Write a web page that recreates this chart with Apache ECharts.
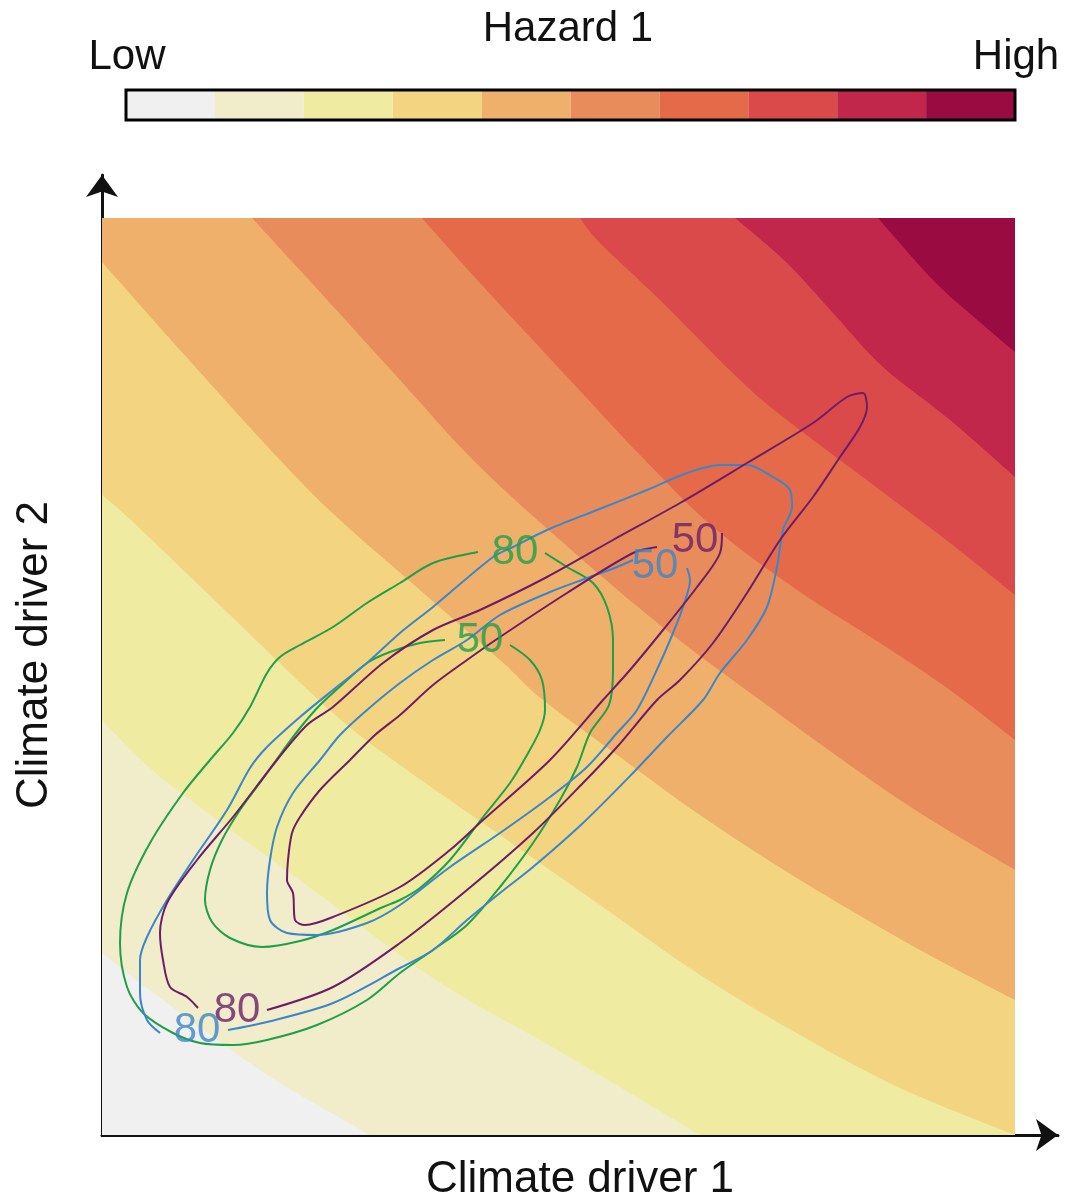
<!DOCTYPE html>
<html>
<head>
<meta charset="utf-8">
<script src="https://cdn.jsdelivr.net/npm/echarts@6/dist/echarts.min.js"></script>
<style>
  html, body { margin: 0; padding: 0; background: #fff; }
  #chart { width: 1071px; height: 1199px; }
</style>
</head>
<body>
<div id="chart"></div>
<script>
// extent of the shaded hazard field (axis units, axes run a bit further for the arrows)
const FIELD_X = 913;
const FIELD_Y = 917;

const BAND_COLORS = ['#f0f0f0', '#f1edcb', '#efeba1', '#f3d581', '#efb06b',
  '#e98c5b', '#e46a4a', '#db4a4b', '#c1264b', '#9a0b42'];

// hazard band boundaries (lower band -> upper band)
const LEVEL_1 = [[0, 182], [45, 147], [111, 98], [178, 52], [268, 0]];
const LEVEL_2 = [[0, 415], [48, 367], [118, 313], [198, 255], [298, 180], [358, 140], [438, 95], [498, 60], [598, 0]];
const LEVEL_3 = [[0, 640], [31, 613], [128, 520], [231, 422], [298, 370], [398, 300], [498, 230], [598, 160], [698, 100], [798, 47], [913, 0]];
const LEVEL_4 = [[0, 873], [78, 785], [178, 675], [238, 615], [318, 545], [398, 475], [441, 435], [518, 378], [598, 320], [698, 255], [818, 185], [913, 135]];
const LEVEL_5 = [[150, 917], [218, 843], [298, 755], [371, 675], [458, 595], [558, 510], [658, 435], [798, 335], [913, 265]];
const LEVEL_6 = [[320, 917], [378, 852], [468, 755], [538, 680], [611, 608], [698, 543], [778, 492], [848, 445], [913, 395]];
const LEVEL_7 = [[478, 917], [498, 892], [558, 835], [638, 755], [685, 715], [778, 645], [848, 592], [913, 540]];
const LEVEL_8 = [[633, 917], [685, 872], [731, 822], [781, 768], [848, 715], [913, 658]];
const LEVEL_9 = [[776, 917], [831, 855], [873, 817], [913, 783]];
const LEVELS = [LEVEL_1, LEVEL_2, LEVEL_3, LEVEL_4, LEVEL_5, LEVEL_6, LEVEL_7, LEVEL_8, LEVEL_9];

// contour lines (open where their label sits)
const GREEN_80 = [[443, 582], [465, 568], [491, 552], [505, 528], [511, 495], [511, 465], [507, 430], [488, 402], [475, 368], [458, 335], [431, 292], [398, 248], [365, 210], [331, 185], [298, 162], [265, 135], [215, 110], [165, 95], [131, 90], [98, 92], [71, 102], [41, 122], [25, 148], [18, 192], [25, 242], [48, 292], [81, 342], [108, 375], [131, 402], [148, 428], [165, 462], [178, 478], [198, 490], [231, 508], [265, 532], [298, 552], [331, 572], [376, 583]];
const GREEN_50 = [[408, 490], [428, 475], [440, 455], [443, 425], [438, 405], [425, 380], [408, 352], [381, 318], [348, 275], [318, 247], [298, 235], [281, 228], [231, 205], [198, 194], [160, 188], [128, 197], [110, 213], [103, 235], [108, 265], [120, 295], [138, 325], [160, 355], [180, 383], [198, 407], [218, 430], [243, 453], [265, 472], [288, 483], [318, 492], [343, 495]];
const BLUE_80 = [[126, 105], [165, 113], [231, 132], [298, 167], [331, 185], [365, 215], [398, 242], [431, 268], [481, 312], [531, 362], [565, 398], [601, 435], [618, 462], [645, 495], [665, 528], [675, 568], [681, 605], [690, 628], [688, 645], [671, 658], [645, 670], [618, 670], [585, 662], [545, 645], [495, 625], [445, 605], [411, 588], [391, 578], [331, 528], [298, 502], [265, 472], [231, 445], [198, 418], [165, 388], [148, 367], [125, 325], [91, 275], [65, 235], [45, 198], [38, 175], [38, 142], [45, 115], [58, 102]];
const BLUE_50 = [[585, 567], [588, 555], [581, 528], [571, 502], [558, 472], [535, 425], [515, 402], [485, 368], [448, 338], [398, 302], [348, 268], [298, 230], [265, 212], [215, 200], [185, 202], [168, 215], [165, 242], [168, 275], [175, 308], [191, 342], [218, 375], [238, 400], [265, 425], [298, 452], [331, 475], [365, 495], [398, 520], [448, 543], [488, 558], [515, 568], [531, 575]];
const PURPLE_80 = [[165, 125], [231, 148], [298, 192], [365, 245], [431, 302], [481, 352], [515, 388], [555, 435], [578, 455], [611, 492], [645, 542], [678, 595], [711, 638], [738, 678], [758, 708], [765, 728], [761, 742], [745, 738], [711, 712], [645, 672], [578, 632], [511, 595], [445, 558], [378, 525], [331, 505], [281, 472], [231, 428], [205, 410], [175, 375], [131, 318], [95, 275], [65, 232], [58, 202], [61, 175], [68, 148], [85, 138], [96, 127]];
const PURPLE_50 = [[620, 602], [618, 582], [595, 548], [561, 505], [528, 465], [501, 435], [448, 375], [381, 315], [348, 285], [298, 248], [231, 218], [203, 210], [193, 215], [191, 242], [185, 255], [186, 275], [190, 302], [198, 318], [218, 345], [248, 375], [273, 400], [298, 420], [331, 450], [365, 475], [398, 498], [465, 542], [531, 582], [555, 588]];

// contour labels: x, y, text
const GREEN_LABELS = [[413, 583, '80'], [378, 495, '50']];
const BLUE_LABELS = [[95, 105, '80'], [553, 569, '50']];
const PURPLE_LABELS = [[135, 125, '80'], [593, 595, '50']];

const CONTOUR_COLORS = { green: '#1f9f48', blue: '#3b86c8', purple: '#6d1d68' };

const FONT = 'Liberation Sans, Arial, Helvetica, sans-serif';

// smooth curve through the boundary points (Catmull-Rom as cubic Bezier)
function curvePath(pts) {
  let d = 'M' + pts[0][0] + ' ' + pts[0][1];
  for (let i = 0; i < pts.length - 1; i++) {
    const p0 = pts[i - 1] || pts[i];
    const p1 = pts[i];
    const p2 = pts[i + 1];
    const p3 = pts[i + 2] || p2;
    const c1x = p1[0] + (p2[0] - p0[0]) / 6, c1y = p1[1] + (p2[1] - p0[1]) / 6;
    const c2x = p2[0] - (p3[0] - p1[0]) / 6, c2y = p2[1] - (p3[1] - p1[1]) / 6;
    d += ' C' + c1x + ' ' + c1y + ' ' + c2x + ' ' + c2y + ' ' + p2[0] + ' ' + p2[1];
  }
  return d;
}

function bandPath(k, api) {
  const toPx = p => api.coord(p);
  if (k === 0) {
    const c = [[0, 0], [FIELD_X, 0], [FIELD_X, FIELD_Y], [0, FIELD_Y]].map(toPx);
    return 'M' + c.map(p => p[0] + ' ' + p[1]).join(' L') + ' Z';
  }
  const edge = LEVELS[k - 1];
  const first = edge[0];
  const last = edge[edge.length - 1];
  const corners = [];
  if (last[1] === 0 && last[0] < FIELD_X) corners.push([FIELD_X, 0]);
  corners.push([FIELD_X, FIELD_Y]);
  if (first[0] === 0 && first[1] < FIELD_Y) corners.push([0, FIELD_Y]);
  let d = curvePath(edge.map(toPx));
  corners.map(toPx).forEach(p => { d += ' L' + p[0] + ' ' + p[1]; });
  return d + ' Z';
}

function contour(name, data, color) {
  return {
    name: name,
    type: 'line',
    data: data,
    smooth: 0.3,
    symbol: 'none',
    lineStyle: { color: color, width: 2 },
    z: 3,
    silent: true
  };
}

function labels(data, color) {
  return {
    type: 'scatter',
    data: data.map(d => ({ value: [d[0], d[1]], name: d[2] })),
    symbolSize: 1,
    itemStyle: { color: 'rgba(0,0,0,0)' },
    label: {
      show: true,
      position: 'inside',
      formatter: p => p.name,
      color: color,
      fontSize: 42,
      fontFamily: FONT
    },
    z: 4,
    silent: true
  };
}

const chart = echarts.init(document.getElementById('chart'));

const axisLineStyle = { color: '#111', width: 3 };

chart.setOption({
  animation: false,
  backgroundColor: '#fff',
  grid: [
    { left: 102, top: 175, width: 956, height: 960, outerBoundsMode: 'none', containLabel: false },
    { left: 126, top: 90, width: 889, height: 30, show: true, z: 5, outerBoundsMode: 'none',
      backgroundColor: 'transparent', borderColor: '#000', borderWidth: 3 }
  ],
  xAxis: [
    {
      gridIndex: 0, type: 'value', min: 0, max: 956,
      axisLine: { show: true, lineStyle: axisLineStyle, symbol: ['none', 'arrow'], symbolSize: [24, 22] },
      axisTick: { show: false }, axisLabel: { show: false }, splitLine: { show: false },
      name: 'Climate driver 1', nameLocation: 'middle', nameGap: 23,
      nameTextStyle: { fontSize: 44, color: '#111', fontFamily: FONT }
    },
    {
      gridIndex: 1, type: 'category', data: BAND_COLORS.map((c, i) => i), show: false
    }
  ],
  yAxis: [
    {
      gridIndex: 0, type: 'value', min: 0, max: 960,
      axisLine: { show: true, lineStyle: axisLineStyle, symbol: ['none', 'arrow'], symbolSize: [24, 22] },
      axisTick: { show: false }, axisLabel: { show: false }, splitLine: { show: false },
      name: 'Climate driver 2', nameLocation: 'middle', nameGap: 45,
      nameTextStyle: { fontSize: 44, color: '#111', fontFamily: FONT }
    },
    { gridIndex: 1, type: 'value', min: 0, max: 1, show: false }
  ],
  graphic: [
    { type: 'text', x: 568, y: 29, style: { text: 'Hazard 1', font: '42px ' + FONT, fill: '#111', textAlign: 'center', textVerticalAlign: 'middle' } },
    { type: 'text', x: 127, y: 57, style: { text: 'Low', font: '42px ' + FONT, fill: '#111', textAlign: 'center', textVerticalAlign: 'middle' } },
    { type: 'text', x: 1016, y: 57, style: { text: 'High', font: '42px ' + FONT, fill: '#111', textAlign: 'center', textVerticalAlign: 'middle' } }
  ],
  series: [
    {
      type: 'custom',
      xAxisIndex: 0, yAxisIndex: 0,
      data: BAND_COLORS.map((c, i) => [i]),
      encode: { x: 0 },
      clip: true,
      silent: true,
      z: 1,
      renderItem: function (params, api) {
        const k = api.value(0);
        return {
          type: 'path',
          shape: { pathData: bandPath(k, api) },
          style: { fill: BAND_COLORS[k], stroke: null }
        };
      }
    },
    contour('green 80', GREEN_80, CONTOUR_COLORS.green),
    contour('green 50', GREEN_50, CONTOUR_COLORS.green),
    contour('blue 80', BLUE_80, CONTOUR_COLORS.blue),
    contour('blue 50', BLUE_50, CONTOUR_COLORS.blue),
    contour('purple 80', PURPLE_80, CONTOUR_COLORS.purple),
    contour('purple 50', PURPLE_50, CONTOUR_COLORS.purple),
    labels(GREEN_LABELS, CONTOUR_COLORS.green),
    labels(BLUE_LABELS, CONTOUR_COLORS.blue),
    labels(PURPLE_LABELS, CONTOUR_COLORS.purple),
    {
      type: 'bar',
      xAxisIndex: 1, yAxisIndex: 1,
      barCategoryGap: '0%',
      silent: true,
      data: BAND_COLORS.map(c => ({ value: 1, itemStyle: { color: c } }))
    }
  ]
});
</script>
</body>
</html>
